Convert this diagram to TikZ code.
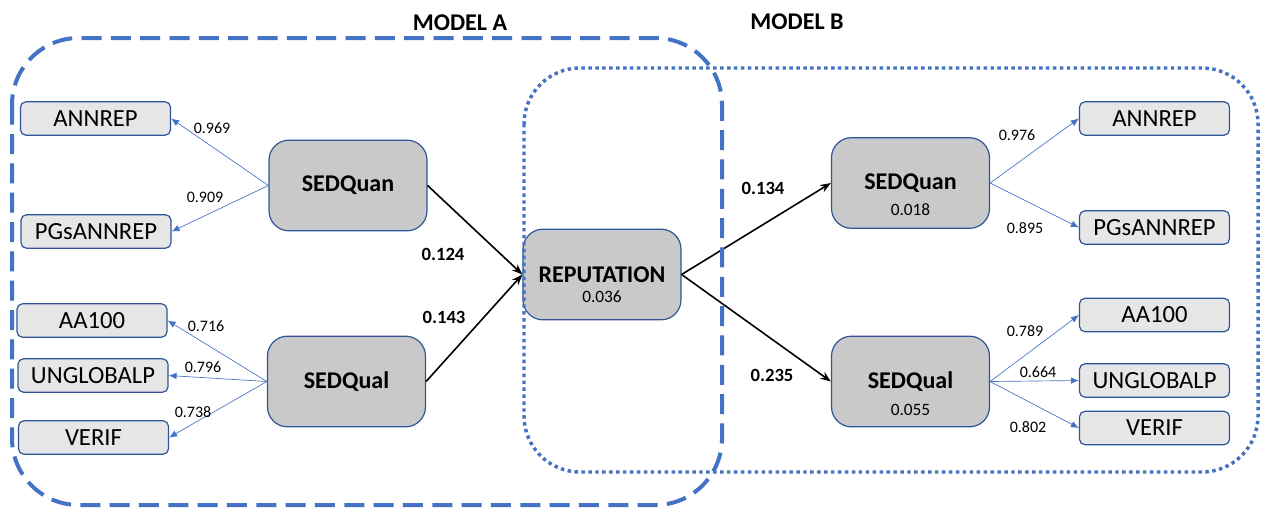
\documentclass[tikz,border=0pt]{standalone}
\usepackage{fontspec}
\setmainfont{Carlito}
\usetikzlibrary{arrows.meta}

\definecolor{boxline}{HTML}{2F5597}
\definecolor{latfill}{HTML}{C9C9C9}
\definecolor{indfill}{HTML}{E7E6E6}
\definecolor{modelblue}{HTML}{4472C4}

\begin{document}
\begin{tikzpicture}[x=0.75pt, y=-0.75pt,
	latent/.style={draw=boxline, fill=latfill, line width=0.9pt, rounded corners=15pt, minimum width=118.5pt, minimum height=68pt, font=\fontsize{18}{21}\selectfont\bfseries},
	indicator/.style={draw=boxline, fill=indfill, line width=0.9pt, rounded corners=4pt, minimum width=112.5pt, minimum height=25pt, inner sep=0pt, font=\fontsize{18.5}{21}\selectfont},
	rsq/.style={font=\fontsize{13}{15}\selectfont},
	loading/.style={font=\fontsize{12}{14}\selectfont},
	coef/.style={font=\fontsize{14}{16}\selectfont\bfseries},
	title/.style={font=\fontsize{18}{21}\selectfont\bfseries},
	load/.style={draw=modelblue, line width=0.5pt, -{Latex[length=6pt, width=5pt]}},
	structural/.style={draw=black, line width=1.2pt, -{Stealth[length=8pt, width=6pt]}},
	modelA/.style={draw=modelblue, line width=3pt, dash pattern=on 15pt off 7pt, rounded corners=50pt},
	modelB/.style={draw=modelblue, line width=2.6pt, dash pattern=on 2.6pt off 2.6pt, rounded corners=42pt}
	]
	\useasboundingbox (0,0) rectangle (1269,507);

	% model A: left measurement part
	\node[latent] (quanA) at (348,185.5) {SEDQuan};
	\node[latent] (qualA) at (346.5,381.5) {SEDQual};
	\node[indicator] (annrepA) at (95.5,118.5) {ANNREP};
	\node[indicator] (pgsA) at (96,231.5) {PGsANNREP};
	\node[indicator] (aaA) at (92,320.5) {AA100};
	\node[indicator] (unA) at (93,375.5) {UNGLOBALP};
	\node[indicator] (verA) at (93.5,437.5) {VERIF};

	% shared outcome
	\node[latent] (rep) at (602,274.5) {REPUTATION};
	\node[rsq] (repval) at (602,297) {0.036};

	% model B: right measurement part
	\node[latent] (quanB) at (910.5,183) {SEDQuan};
	\node[rsq] (quanBval) at (910.5,210) {0.018};
	\node[latent] (qualB) at (910.5,381.5) {SEDQual};
	\node[rsq] (qualBval) at (910.5,410) {0.055};
	\node[indicator] (annrepB) at (1154.5,118.5) {ANNREP};
	\node[indicator] (pgsB) at (1154.5,227.5) {PGsANNREP};
	\node[indicator] (aaB) at (1154.5,315) {AA100};
	\node[indicator] (unB) at (1154.5,380.5) {UNGLOBALP};
	\node[indicator] (verB) at (1154.5,428) {VERIF};

	% loadings
	\draw[load] (quanA.west) -- (annrepA.east);
	\draw[load] (quanA.west) -- (pgsA.east);
	\draw[load] (qualA.west) -- (aaA.east);
	\draw[load] (qualA.west) -- (unA.east);
	\draw[load] (qualA.west) -- (verA.east);
	\draw[load] (quanB.east) -- (annrepB.west);
	\draw[load] (quanB.east) -- (pgsB.west);
	\draw[load] (qualB.east) -- (aaB.west);
	\draw[load] (qualB.east) -- (unB.west);
	\draw[load] (qualB.east) -- (verB.west);

	\node[loading] (l1) at (212,128) {0.969};
	\node[loading] (l2) at (205,197) {0.909};
	\node[loading] (l3) at (206,326) {0.716};
	\node[loading] (l4) at (203,367) {0.796};
	\node[loading] (l5) at (193,412) {0.738};
	\node[loading] (l6) at (1017,135) {0.976};
	\node[loading] (l7) at (1025,228) {0.895};
	\node[loading] (l8) at (1025,331) {0.789};
	\node[loading] (l9) at (1038,372) {0.664};
	\node[loading] (l10) at (1028,427) {0.802};

	% structural paths
	\draw[structural] (quanA.east) -- (rep.west);
	\draw[structural] (qualA.east) -- (rep.west);
	\draw[structural] (rep.east) -- (quanB.west);
	\draw[structural] (rep.east) -- (qualB.west);

	\node[coef] (c1) at (443,254) {0.124};
	\node[coef] (c2) at (444,317) {0.143};
	\node[coef] (c3) at (763,188) {0.134};
	\node[coef] (c4) at (772,375) {0.235};

	% model frames
	\draw[modelA] (12,38) rectangle (722,505);
	\draw[modelB] (524,68) rectangle (1258,472);
	\node[title] (titleA) at (460,23) {MODEL A};
	\node[title] (titleB) at (797,22) {MODEL B};
\end{tikzpicture}
\end{document}
